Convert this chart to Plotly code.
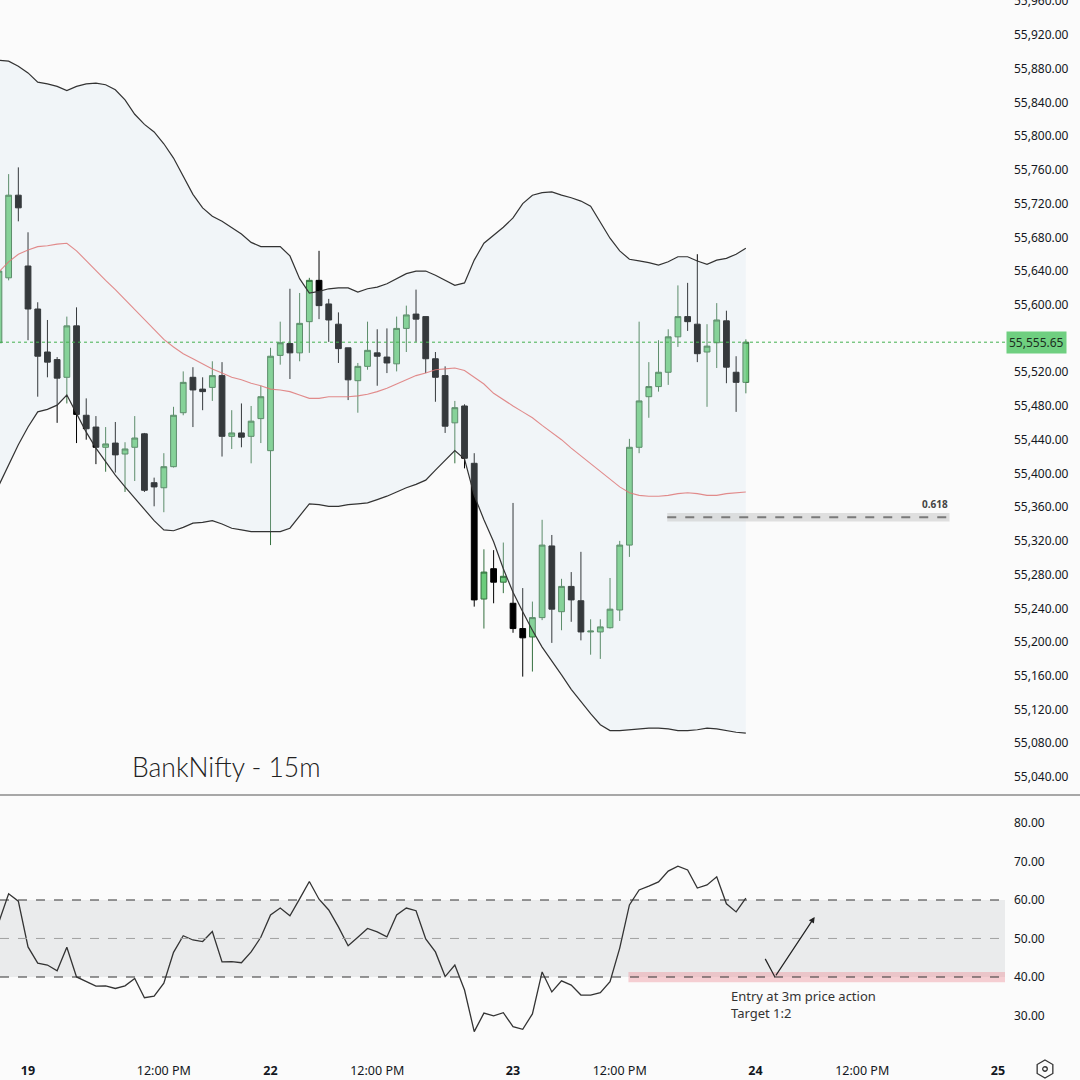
import plotly.graph_objects as go
from plotly.subplots import make_subplots

# bar index (15m bars, no session gaps); day 19 opens at 0
bars = list(range(-3, 75))

opens = [55555, 55632, 55730, 55646, 55595, 55544, 55535, 55514, 55575, 55469,
         55455, 55431, 55436, 55423, 55431, 55447, 55389, 55383, 55408, 55472,
         55514, 55500, 55502, 55516, 55444, 55448, 55444, 55465, 55427, 55540,
         55554, 55543, 55580, 55629, 55601, 55577, 55549, 55510, 55527, 55543,
         55538, 55530, 55572, 55589, 55586, 55536, 55516, 55460, 55480, 55412,
         55251, 55287, 55271, 55246, 55216, 55206, 55229, 55314, 55236, 55266,
         55249, 55212, 55212, 55217, 55238, 55315, 55431, 55491, 55503, 55520,
         55562, 55586, 55577, 55544, 55555, 55581, 55520, 55508]
highs = [55650, 55755, 55763, 55686, 55603, 55582, 55538, 55586, 55597, 55489,
         55468, 55455, 55461, 55437, 55468, 55448, 55395, 55424, 55479, 55521,
         55526, 55514, 55533, 55532, 55475, 55483, 55480, 55504, 55549, 55580,
         55619, 55614, 55632, 55664, 55607, 55591, 55549, 55531, 55580, 55571,
         55572, 55586, 55599, 55618, 55586, 55544, 55527, 55486, 55482, 55424,
         55310, 55309, 55318, 55365, 55264, 55248, 55345, 55327, 55275, 55283,
         55307, 55227, 55227, 55276, 55320, 55441, 55580, 55532, 55558, 55571,
         55623, 55626, 55660, 55577, 55602, 55593, 55539, 55559]
lows = [55548, 55629, 55699, 55558, 55491, 55514, 55460, 55483, 55436, 55440,
        55411, 55402, 55401, 55378, 55391, 55378, 55361, 55354, 55407, 55469,
        55455, 55475, 55486, 55420, 55429, 55431, 55412, 55436, 55315, 55529,
        55512, 55533, 55543, 55583, 55556, 55531, 55487, 55472, 55523, 55504,
        55519, 55521, 55544, 55556, 55519, 55485, 55448, 55412, 55406, 55242,
        55216, 55246, 55258, 55211, 55159, 55165, 55226, 55199, 55214, 55224,
        55202, 55185, 55180, 55216, 55225, 55301, 55424, 55466, 55497, 55505,
        55550, 55569, 55532, 55479, 55525, 55507, 55473, 55495]
closes = [55640, 55730, 55715, 55595, 55539, 55532, 55513, 55575, 55470, 55453,
          55431, 55435, 55422, 55429, 55442, 55380, 55384, 55408, 55469, 55508,
          55499, 55497, 55516, 55444, 55448, 55443, 55462, 55491, 55539, 55555,
          55543, 55578, 55629, 55599, 55582, 55548, 55511, 55527, 55546, 55539,
          55531, 55572, 55588, 55583, 55536, 55514, 55456, 55478, 55418, 55250,
          55283, 55271, 55278, 55216, 55205, 55229, 55315, 55239, 55266, 55250,
          55212, 55213, 55218, 55239, 55315, 55431, 55486, 55503, 55520, 55562,
          55586, 55580, 55542, 55551, 55582, 55526, 55508, 55555.65]

bb_upper = [55890, 55889, 55883, 55875, 55864, 55862, 55859, 55854, 55859, 55862,
            55863, 55861, 55855, 55843, 55826, 55814, 55805, 55791, 55774, 55753,
            55731, 55715, 55705, 55699, 55691, 55684, 55674, 55669, 55669, 55669,
            55658, 55631, 55614, 55616, 55619, 55620, 55620, 55615, 55619, 55621,
            55625, 55631, 55637, 55640, 55640, 55635, 55629, 55623, 55626, 55653,
            55673, 55682, 55692, 55703, 55720, 55730, 55733, 55734, 55730, 55727,
            55723, 55717, 55698, 55679, 55664, 55654, 55652, 55650, 55647, 55651,
            55657, 55657, 55652, 55648, 55653, 55655, 55660, 55667]
bb_basis = [55639, 55651, 55660, 55665, 55669, 55670, 55672, 55673, 55664, 55652,
            55641, 55629, 55618, 55606, 55594, 55582, 55570, 55559, 55550, 55542,
            55536, 55530, 55524, 55519, 55514, 55511, 55507, 55504, 55500, 55499,
            55497, 55493, 55489, 55489, 55491, 55491, 55491, 55492, 55494, 55497,
            55501, 55506, 55511, 55516, 55519, 55523, 55524, 55525, 55522, 55514,
            55506, 55495, 55487, 55480, 55473, 55466, 55457, 55449, 55440, 55430,
            55421, 55411, 55403, 55393, 55384, 55377, 55374, 55373, 55373, 55374,
            55376, 55377, 55376, 55374, 55374, 55376, 55377, 55378]
bb_lower = [55386, 55410, 55434, 55455, 55473, 55476, 55481, 55493, 55471, 55449,
            55430, 55414, 55398, 55384, 55371, 55357, 55344, 55333, 55332, 55336,
            55341, 55342, 55344, 55340, 55335, 55333, 55331, 55331, 55331, 55331,
            55335, 55350, 55364, 55363, 55361, 55361, 55363, 55364, 55365, 55369,
            55373, 55378, 55383, 55387, 55392, 55404, 55416, 55427, 55417, 55374,
            55345, 55319, 55287, 55259, 55236, 55214, 55194, 55178, 55161, 55144,
            55129, 55115, 55102, 55095, 55095, 55096, 55097, 55098, 55098, 55097,
            55095, 55095, 55096, 55098, 55097, 55095, 55093, 55092]

rsi = [54.3, 61.6, 59.7, 47.8, 43.6, 43.1, 41.6, 47.7, 40.0, 38.8,
       37.6, 37.7, 37.0, 37.7, 39.6, 34.6, 35.0, 38.4, 46.4, 50.7,
       49.6, 49.2, 51.8, 43.9, 44.0, 43.7, 46.5, 50.3, 56.1, 57.9,
       55.9, 60.3, 64.8, 60.2, 57.4, 53.0, 48.1, 50.3, 52.6, 51.7,
       50.4, 56.1, 57.9, 57.2, 49.9, 46.5, 40.1, 43.1, 36.6, 25.8,
       30.6, 29.9, 30.7, 27.1, 26.4, 30.4, 41.3, 36.1, 39.0, 37.9,
       35.3, 35.3, 35.9, 38.8, 47.5, 58.7, 62.6, 63.6, 64.7, 67.5,
       68.8, 67.8, 63.1, 63.9, 66.0, 59.0, 56.9, 60.5]

tick_pos = [0, 14, 25, 36, 50, 61, 75, 86, 100]
tick_text = ["<b>19</b>", "12:00 PM", "<b>22</b>", "12:00 PM", "<b>23</b>",
             "12:00 PM", "<b>24</b>", "12:00 PM", "<b>25</b>"]
# 55,560 sits under the last-price tag, so it's left out
price_ticks = [p for p in range(55040, 55961, 40) if p != 55560]
rsi_ticks = [30, 40, 50, 60, 70, 80]

last_price = 55555.65
fib_label = "0.618"
fib_price = 55348
fib_from, fib_to = 65.9, 95.0
rsi_upper, rsi_mid, rsi_lower = 60, 50, 40
zone_from, zone_lo, zone_hi = 61.9, 38.6, 41.3
arrow_x = [76.0, 77.0, 81.1]
arrow_y = [44.7, 40.0, 55.6]
note_lines = ["Entry at 3m price action", "Target 1:2"]
title_text = "BankNifty - 15m"

BG = "#fbfbfb"
TXT = "#131722"
FONT = "Noto Sans"

fig = make_subplots(rows=2, cols=1, shared_xaxes=True, vertical_spacing=0.0)

# bollinger bands
fig.add_trace(go.Scatter(x=bars, y=bb_upper, mode="lines",
                         line=dict(color="#333333", width=1.2), showlegend=False), row=1, col=1)
fig.add_trace(go.Scatter(x=bars, y=bb_lower, mode="lines", fill="tonexty",
                         fillcolor="rgba(210,228,240,0.25)",
                         line=dict(color="#333333", width=1.2), showlegend=False), row=1, col=1)
fig.add_trace(go.Scatter(x=bars, y=bb_basis, mode="lines",
                         line=dict(color="rgba(222,120,120,0.85)", width=1.1), showlegend=False), row=1, col=1)

fig.add_trace(go.Candlestick(
    x=bars, open=opens, high=highs, low=lows, close=closes,
    increasing=dict(fillcolor="#6ccc7c", line=dict(color="#35703f", width=1)),
    decreasing=dict(fillcolor="#000000", line=dict(color="#000000", width=1)),
    whiskerwidth=0, showlegend=False), row=1, col=1)

# rsi
fig.add_trace(go.Scatter(x=bars, y=rsi, mode="lines",
                         line=dict(color="#333333", width=1.3), showlegend=False), row=2, col=1)
fig.add_trace(go.Scatter(x=arrow_x[:2], y=arrow_y[:2], mode="lines",
                         line=dict(color="#222222", width=1.2), showlegend=False), row=2, col=1)

# shapes
sep_y = 1 - 795 / 1052
shapes = [
    dict(type="rect", xref="x2 domain", yref="y2", x0=0, x1=1, y0=rsi_lower, y1=rsi_upper,
         fillcolor="rgba(150,155,160,0.16)", line_width=0, layer="below"),
    dict(type="rect", xref="x2", yref="y2", x0=zone_from, x1=101, y0=zone_lo, y1=zone_hi,
         fillcolor="rgba(238,140,150,0.40)", line_width=0, layer="below"),
    dict(type="line", xref="x2 domain", yref="y2", x0=0, x1=1, y0=rsi_upper, y1=rsi_upper,
         line=dict(color="#333333", width=1.1, dash="dash")),
    dict(type="line", xref="x2 domain", yref="y2", x0=0, x1=1, y0=rsi_mid, y1=rsi_mid,
         line=dict(color="#a0a0a0", width=1, dash="dash")),
    dict(type="line", xref="x2 domain", yref="y2", x0=0, x1=1, y0=rsi_lower, y1=rsi_lower,
         line=dict(color="#333333", width=1.1, dash="dash")),
    dict(type="line", xref="x domain", yref="y", x0=0, x1=1, y0=last_price, y1=last_price,
         line=dict(color="#43b04f", width=1, dash="dot")),
    dict(type="rect", xref="x", yref="y", x0=fib_from, x1=fib_to, y0=fib_price - 5, y1=fib_price + 5,
         fillcolor="rgba(200,200,200,0.55)", line_width=0),
    dict(type="line", xref="x", yref="y", x0=fib_from, x1=fib_to, y0=fib_price, y1=fib_price,
         line=dict(color="#7a7a7a", width=2, dash="dash")),
    dict(type="line", xref="paper", yref="paper", x0=0, x1=1.075, y0=sep_y, y1=sep_y,
         line=dict(color="#555555", width=1.2)),
    # settings icon in the corner (hexagon + circle)
    dict(type="path", xref="paper", yref="paper",
         path="M 1.0398 -0.0076 L 1.0476 -0.0119 L 1.0476 -0.0204 L 1.0398 -0.0247 "
              "L 1.0320 -0.0204 L 1.0320 -0.0119 Z",
         line=dict(color="#333333", width=1.3)),
    dict(type="circle", xref="paper", yref="paper", x0=1.0375, x1=1.0421, y0=-0.0183, y1=-0.0140,
         line=dict(color="#333333", width=1.3)),
]

annotations = [
    dict(x=1, xref="paper", y=last_price, yref="y", text="55,555.65", showarrow=False,
         xanchor="left", xshift=1, bgcolor="#6fcf80", borderpad=2,
         font=dict(family=FONT, size=12, color="#1c2e20")),
    dict(x=fib_to, xref="x", y=fib_price, yref="y", text="<b>" + fib_label + "</b>", showarrow=False,
         xanchor="right", yanchor="bottom", yshift=4, font=dict(family=FONT, size=10, color="#444444")),
    dict(x=10.5, xref="x", y=55052, yref="y", text=title_text, showarrow=False,
         xanchor="left", font=dict(family="Lato", size=26.5, color="#222222", weight=300)),
    dict(x=arrow_x[2], y=arrow_y[2], xref="x2", yref="y2", ax=arrow_x[1], ay=arrow_y[1],
         axref="x2", ayref="y2", showarrow=True, arrowhead=2, arrowsize=1, arrowwidth=1.2,
         arrowcolor="#222222", text=""),
    dict(x=72.3, xref="x2", y=32.9, yref="y2", text="<br>".join(note_lines), showarrow=False,
         xanchor="left", align="left", font=dict(family=FONT, size=13, color="#333333")),
]

fig.update_layout(
    width=1080, height=1080,
    margin=dict(l=0, r=75, t=0, b=28),
    paper_bgcolor=BG, plot_bgcolor=BG,
    showlegend=False,
    boxgap=0.15,
    shapes=shapes, annotations=annotations,
    font=dict(family=FONT, size=12, color=TXT),
)
fig.update_xaxes(range=[-2.89, 100.72], showgrid=False, zeroline=False, automargin=False,
                 rangeslider_visible=False, showline=False)
fig.update_xaxes(tickvals=tick_pos, ticktext=tick_text, ticks="", tickfont=dict(size=12.5, color=TXT),
                 ticklabelstandoff=9, row=2, col=1)
fig.update_xaxes(showticklabels=False, row=1, col=1)
fig.update_yaxes(side="right", showgrid=False, zeroline=False, ticks="", showline=False, automargin=False,
                 tickfont=dict(size=12, color=TXT), ticklabelstandoff=8, ticklabeloverflow="allow")
fig.update_yaxes(range=[55018.6, 55961.5], tickvals=price_ticks, tickformat=",.2f",
                 domain=[sep_y, 1], row=1, col=1)
fig.update_yaxes(range=[20.5, 86.75], tickvals=rsi_ticks, tickformat=".2f",
                 domain=[0, 1 - 797 / 1052], row=2, col=1)

fig.write_html("out.html", config={"displayModeBar": False},
               post_script="document.body.style.margin='0px';")
